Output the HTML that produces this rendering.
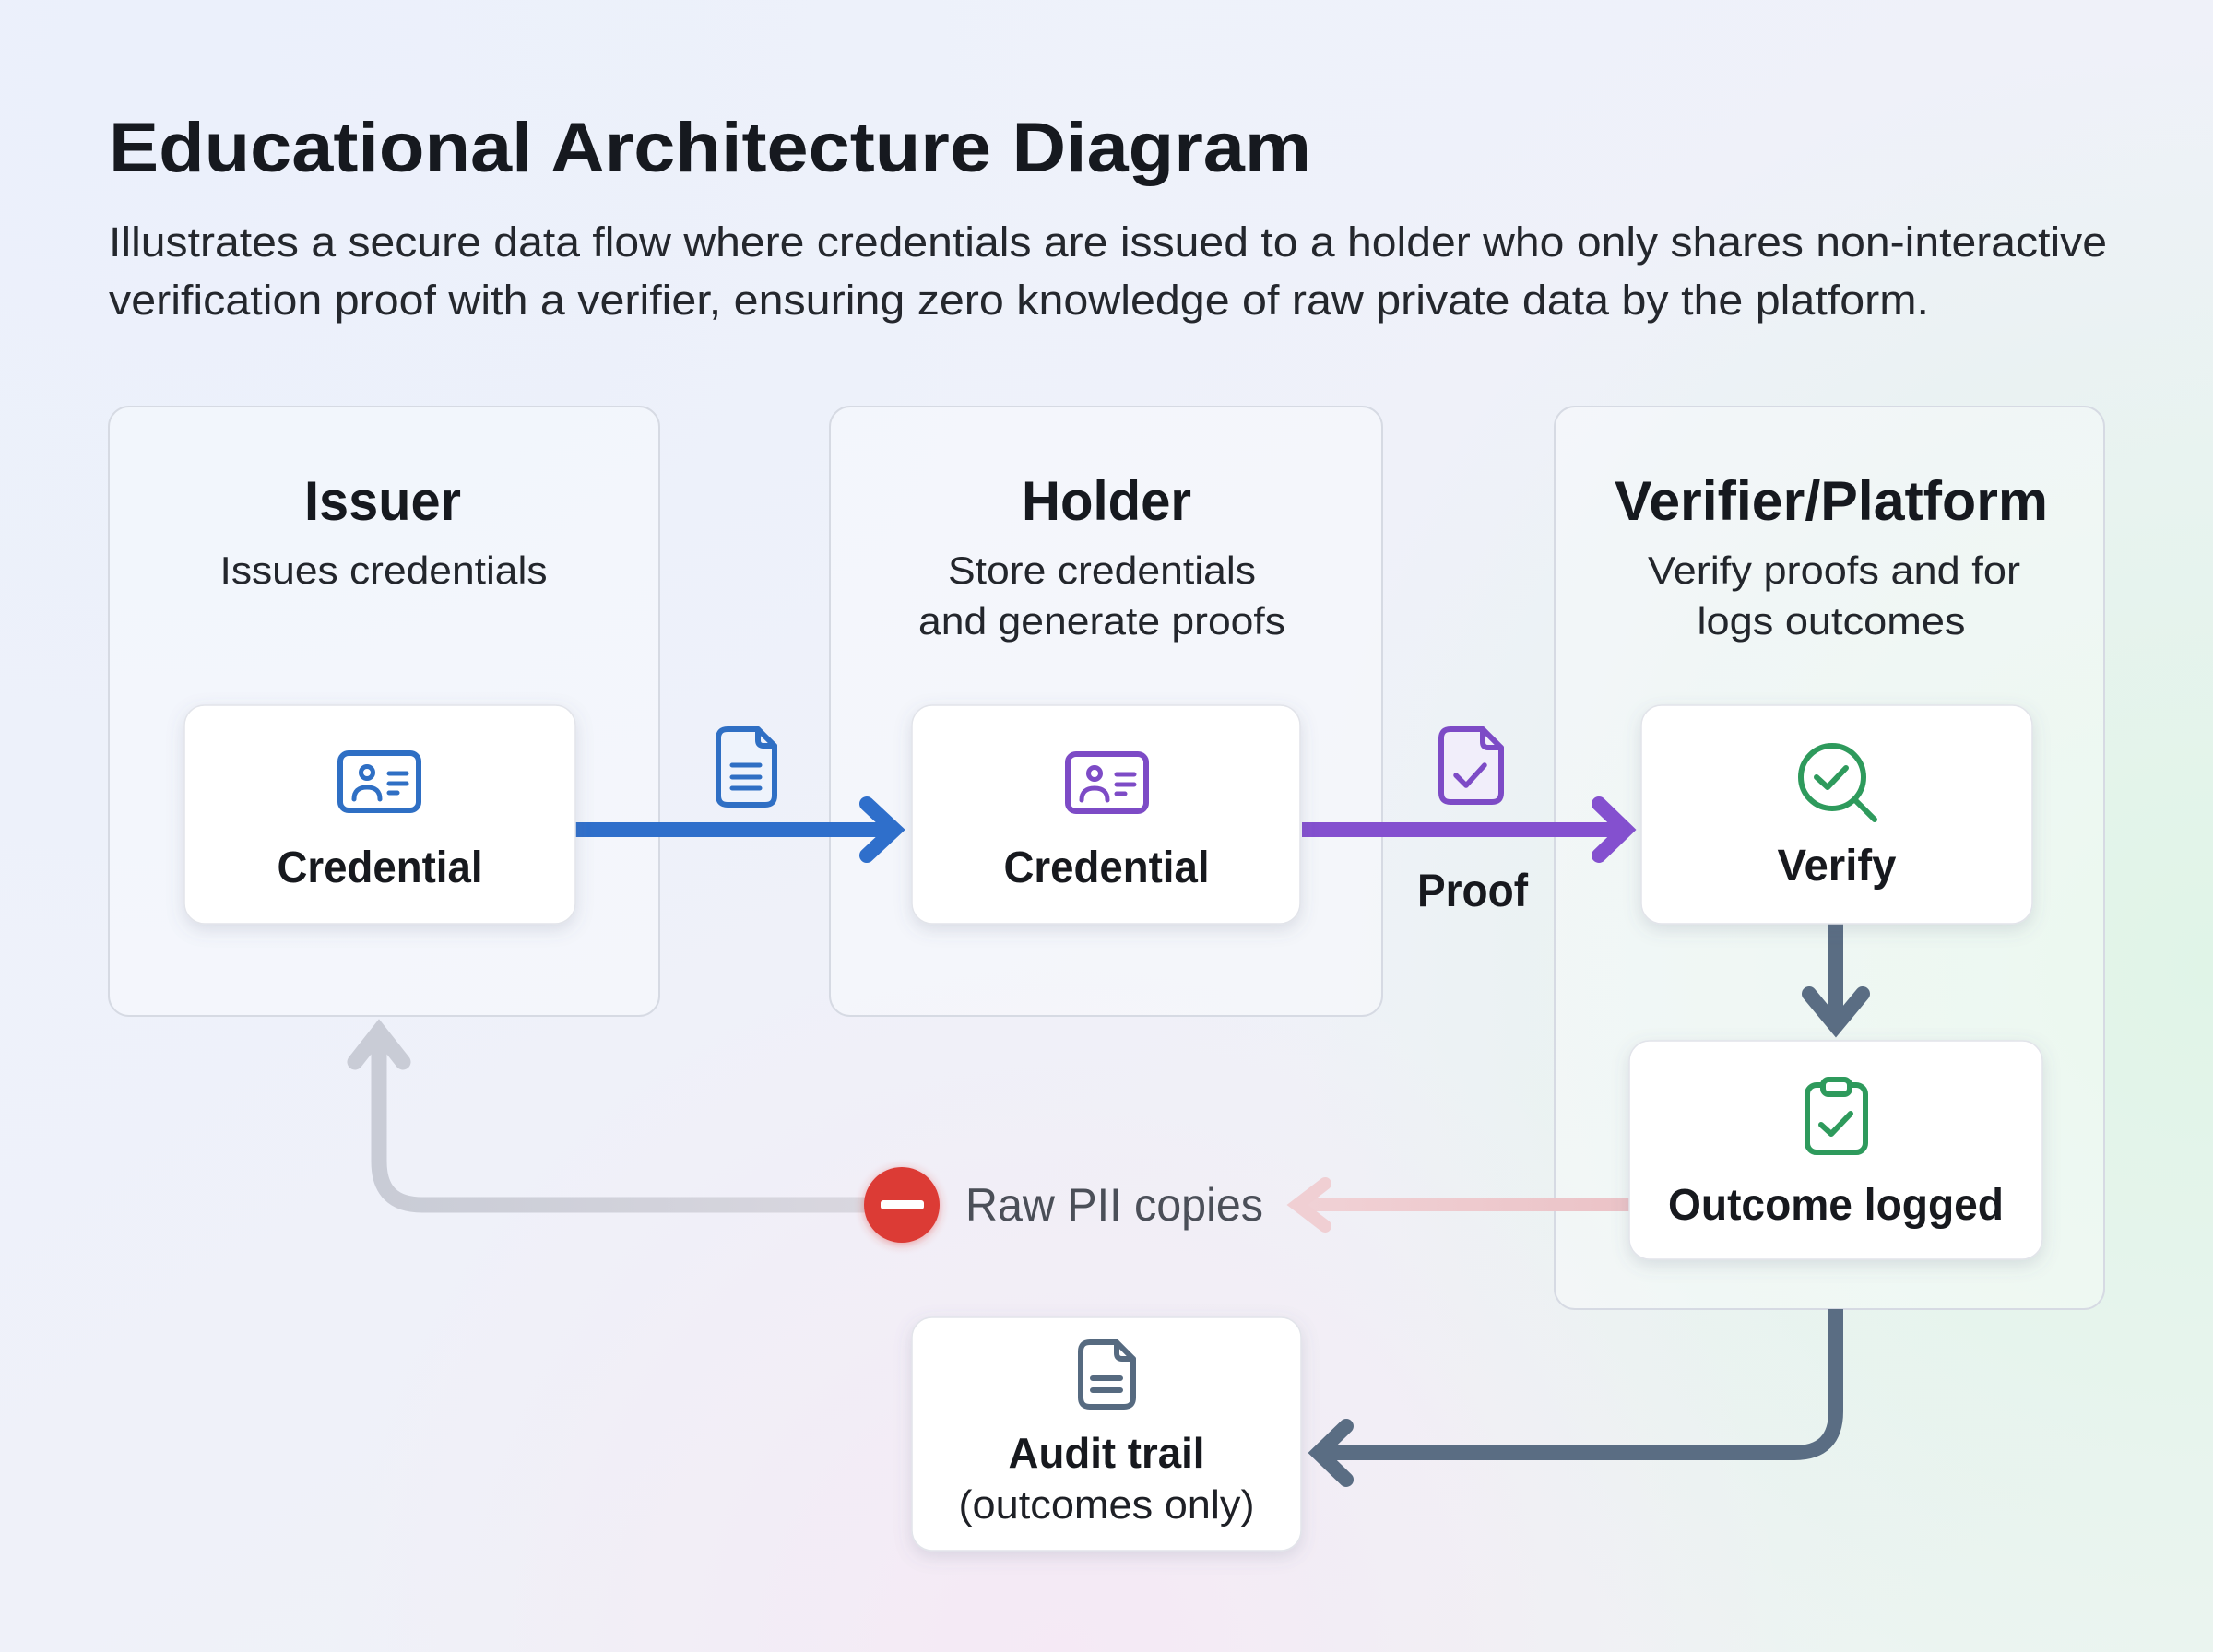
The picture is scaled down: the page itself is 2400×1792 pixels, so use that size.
<!DOCTYPE html>
<html>
<head>
<meta charset="utf-8">
<style>
  html, body { margin: 0; padding: 0; width: 2400px; height: 1792px; overflow: hidden; background: #eef1f9; }
  svg { display: block; }
  text { font-family: "Liberation Sans", "DejaVu Sans", sans-serif; }
</style>
</head>
<body>
<svg xmlns="http://www.w3.org/2000/svg" width="2400" height="1792" viewBox="0 0 2400 1792">
  <defs>
    <linearGradient id="bg" x1="0" y1="0" x2="1" y2="1">
      <stop offset="0" stop-color="#edf2fb"/>
      <stop offset="0.5" stop-color="#eff1f9"/>
      <stop offset="1" stop-color="#eef4f2"/>
    </linearGradient>
    <radialGradient id="gGreen" cx="2400" cy="1050" r="1000" gradientUnits="userSpaceOnUse">
      <stop offset="0" stop-color="#e0f4e7" stop-opacity="1"/>
      <stop offset="1" stop-color="#e0f4e7" stop-opacity="0"/>
    </radialGradient>
    <radialGradient id="gPink" cx="1150" cy="1800" r="800" gradientUnits="userSpaceOnUse">
      <stop offset="0" stop-color="#f5e9f5" stop-opacity="1"/>
      <stop offset="1" stop-color="#f5e9f5" stop-opacity="0"/>
    </radialGradient>
    <radialGradient id="gBlue" cx="200" cy="100" r="1100" gradientUnits="userSpaceOnUse">
      <stop offset="0" stop-color="#ebf0fb" stop-opacity="1"/>
      <stop offset="1" stop-color="#ebf0fb" stop-opacity="0"/>
    </radialGradient>
    <linearGradient id="pinkGrad" x1="1396" y1="0" x2="1767" y2="0" gradientUnits="userSpaceOnUse">
      <stop offset="0" stop-color="#f1d2d6"/>
      <stop offset="1" stop-color="#ebc3c7"/>
    </linearGradient>
    <linearGradient id="grayGrad" x1="411" y1="0" x2="937" y2="0" gradientUnits="userSpaceOnUse">
      <stop offset="0" stop-color="#c9ccd6"/>
      <stop offset="1" stop-color="#d9d7df"/>
    </linearGradient>
    <filter id="sh" x="-20%" y="-20%" width="140%" height="160%">
      <feDropShadow dx="0" dy="6" stdDeviation="9" flood-color="#5a6580" flood-opacity="0.18"/>
    </filter>
    <filter id="redglow" x="-50%" y="-50%" width="200%" height="200%">
      <feDropShadow dx="0" dy="2" stdDeviation="5" flood-color="#e03a35" flood-opacity="0.45"/>
    </filter>
  </defs>

  <!-- Background -->
  <rect x="0" y="0" width="2400" height="1792" fill="url(#bg)"/>
  <rect x="0" y="0" width="2400" height="1792" fill="url(#gBlue)"/>
  <rect x="0" y="0" width="2400" height="1792" fill="url(#gGreen)"/>
  <rect x="0" y="0" width="2400" height="1792" fill="url(#gPink)"/>

  <!-- Header -->
  <text x="118" y="186" font-size="76" font-weight="700" fill="#16191f" textLength="1304" lengthAdjust="spacingAndGlyphs">Educational Architecture Diagram</text>
  <text x="118" y="278" font-size="45" fill="#24272d" textLength="2167" lengthAdjust="spacingAndGlyphs">Illustrates a secure data flow where credentials are issued to a holder who only shares non-interactive</text>
  <text x="118" y="341" font-size="45" fill="#24272d" textLength="1974" lengthAdjust="spacingAndGlyphs">verification proof with a verifier, ensuring zero knowledge of raw private data by the platform.</text>

  <!-- Panels -->
  <rect x="118" y="441" width="597" height="661" rx="22" fill="#ffffff" fill-opacity="0.35" stroke="#d6dae3" stroke-width="2"/>
  <rect x="900" y="441" width="599" height="661" rx="22" fill="#ffffff" fill-opacity="0.35" stroke="#d6dae3" stroke-width="2"/>
  <rect x="1686" y="441" width="596" height="979" rx="22" fill="#ffffff" fill-opacity="0.35" stroke="#d6dae3" stroke-width="2"/>

  <!-- Panel titles -->
  <text x="415" y="564" font-size="60" font-weight="700" fill="#16191f" text-anchor="middle" textLength="170" lengthAdjust="spacingAndGlyphs">Issuer</text>
  <text x="1200" y="564" font-size="60" font-weight="700" fill="#16191f" text-anchor="middle" textLength="184" lengthAdjust="spacingAndGlyphs">Holder</text>
  <text x="1986" y="564" font-size="60" font-weight="700" fill="#16191f" text-anchor="middle" textLength="470" lengthAdjust="spacingAndGlyphs">Verifier/Platform</text>

  <text x="416" y="633" font-size="42" fill="#23262c" text-anchor="middle" textLength="355" lengthAdjust="spacingAndGlyphs">Issues credentials</text>
  <text x="1195" y="633" font-size="42" fill="#23262c" text-anchor="middle" textLength="334" lengthAdjust="spacingAndGlyphs">Store credentials</text>
  <text x="1195" y="688" font-size="42" fill="#23262c" text-anchor="middle" textLength="398" lengthAdjust="spacingAndGlyphs">and generate proofs</text>
  <text x="1989" y="633" font-size="42" fill="#23262c" text-anchor="middle" textLength="404" lengthAdjust="spacingAndGlyphs">Verify proofs and for</text>
  <text x="1986" y="688" font-size="42" fill="#23262c" text-anchor="middle" textLength="291" lengthAdjust="spacingAndGlyphs">logs outcomes</text>

  <!-- Gray return arrow (to issuer) -->
  <path d="M 940 1307 H 458 Q 411 1307 411 1260 V 1120" fill="none" stroke="url(#grayGrad)" stroke-width="17" stroke-linecap="round"/>
  <polyline points="385,1152 411,1119 437,1152" fill="none" stroke="#c9ccd6" stroke-width="17" stroke-linecap="round" stroke-linejoin="miter"/>

  <!-- Pink arrow (Raw PII copies) -->
  <path d="M 1767 1307 H 1410" fill="none" stroke="url(#pinkGrad)" stroke-width="14"/>
  <polyline points="1437,1284 1407,1307 1437,1330" fill="none" stroke="#f0cfd3" stroke-width="14" stroke-linecap="round" stroke-linejoin="miter"/>

  <!-- Red minus circle -->
  <circle cx="978" cy="1307" r="41" fill="#dc3a35" filter="url(#redglow)"/>
  <rect x="955" y="1302" width="47" height="10" rx="3" fill="#ffffff"/>

  <text x="1047" y="1324" font-size="50" fill="#4b4f58" textLength="323" lengthAdjust="spacingAndGlyphs">Raw PII copies</text>

  <!-- Audit arrow -->
  <path d="M 1991 1420 V 1531 Q 1991 1576 1946 1576 H 1432" fill="none" stroke="#5a6d83" stroke-width="16"/>
  <polyline points="1460,1547 1430,1576 1460,1605" fill="none" stroke="#5a6d83" stroke-width="16" stroke-linecap="round" stroke-linejoin="miter"/>

  <!-- Blue arrow -->
  <path d="M 624 900 H 968" fill="none" stroke="#2f6fcb" stroke-width="16"/>
  <polyline points="940,872 970,900 940,928" fill="none" stroke="#2f6fcb" stroke-width="16" stroke-linecap="round" stroke-linejoin="miter"/>

  <!-- Purple arrow -->
  <path d="M 1412 900 H 1760" fill="none" stroke="#8450cf" stroke-width="16"/>
  <polyline points="1734,872 1763,900 1734,928" fill="none" stroke="#8450cf" stroke-width="16" stroke-linecap="round" stroke-linejoin="miter"/>

  <!-- Down arrow verify -> outcome -->
  <path d="M 1991 1000 V 1112" fill="none" stroke="#5a6d83" stroke-width="16"/>
  <polyline points="1962,1078 1991,1113 2020,1078" fill="none" stroke="#5a6d83" stroke-width="16" stroke-linecap="round" stroke-linejoin="miter"/>

  <!-- Node boxes -->
  <rect x="200" y="765" width="424" height="237" rx="22" fill="#ffffff" stroke="#e2e4ea" stroke-width="1.5" filter="url(#sh)"/>
  <rect x="989" y="765" width="421" height="237" rx="22" fill="#ffffff" stroke="#e2e4ea" stroke-width="1.5" filter="url(#sh)"/>
  <rect x="1780" y="765" width="424" height="237" rx="22" fill="#ffffff" stroke="#e2e4ea" stroke-width="1.5" filter="url(#sh)"/>
  <rect x="1767" y="1129" width="448" height="237" rx="22" fill="#ffffff" stroke="#e2e4ea" stroke-width="1.5" filter="url(#sh)"/>
  <rect x="989" y="1429" width="422" height="253" rx="22" fill="#ffffff" stroke="#e2e4ea" stroke-width="1.5" filter="url(#sh)"/>

  <!-- Issuer ID card icon (blue) -->
  <g fill="none" stroke="#2f6fc4" stroke-width="6" stroke-linecap="round" stroke-linejoin="round">
    <rect x="369" y="817" width="85" height="62" rx="9"/>
    <circle cx="398" cy="838" r="6.5" stroke-width="5"/>
    <path d="M 384 867 Q 384 854 398 854 Q 412 854 412 867" stroke-width="5"/>
    <path d="M 422 839 H 441 M 422 850 H 441 M 422 860 H 431" stroke-width="5"/>
  </g>
  <text x="412" y="957" font-size="48" font-weight="700" fill="#17191e" text-anchor="middle" textLength="223" lengthAdjust="spacingAndGlyphs">Credential</text>

  <!-- Holder ID card icon (purple) -->
  <g fill="none" stroke="#7d4bc6" stroke-width="6" stroke-linecap="round" stroke-linejoin="round">
    <rect x="1158" y="818" width="85" height="62" rx="9"/>
    <circle cx="1187" cy="839" r="6.5" stroke-width="5"/>
    <path d="M 1173 868 Q 1173 855 1187 855 Q 1201 855 1201 868" stroke-width="5"/>
    <path d="M 1211 840 H 1230 M 1211 851 H 1230 M 1211 861 H 1220" stroke-width="5"/>
  </g>
  <text x="1200" y="957" font-size="48" font-weight="700" fill="#17191e" text-anchor="middle" textLength="223" lengthAdjust="spacingAndGlyphs">Credential</text>

  <!-- Blue doc icon -->
  <g fill="none" stroke="#2f6fc4" stroke-width="6" stroke-linecap="round" stroke-linejoin="round">
    <path d="M 789 791 H 822 L 840 809 V 863 Q 840 873 830 873 H 789 Q 779 873 779 863 V 801 Q 779 791 789 791 Z" fill="#eef3fc"/>
    <path d="M 822 791 V 803 Q 822 809 828 809 H 840"/>
    <path d="M 794 830 H 824 M 794 843 H 824 M 794 855 H 824" stroke-width="5"/>
  </g>

  <!-- Purple proof doc icon -->
  <g fill="none" stroke="#7d4bc6" stroke-width="6" stroke-linecap="round" stroke-linejoin="round">
    <path d="M 1573 791 H 1608 L 1628 811 V 860 Q 1628 870 1618 870 H 1573 Q 1563 870 1563 860 V 801 Q 1563 791 1573 791 Z" fill="#f1eefa"/>
    <path d="M 1608 791 V 805 Q 1608 811 1614 811 H 1628"/>
    <polyline points="1579,841 1590,852 1610,830" stroke-width="5.5"/>
  </g>
  <text x="1597" y="983" font-size="50" font-weight="700" fill="#17191e" text-anchor="middle" textLength="120" lengthAdjust="spacingAndGlyphs">Proof</text>

  <!-- Verify magnifier icon -->
  <g fill="none" stroke="#2e9a5c" stroke-width="6" stroke-linecap="round" stroke-linejoin="round">
    <circle cx="1987" cy="843" r="34"/>
    <path d="M 2012 868 L 2033 889"/>
    <polyline points="1970,843 1982,854 2002,833"/>
  </g>
  <text x="1992" y="955" font-size="48" font-weight="700" fill="#17191e" text-anchor="middle" textLength="129" lengthAdjust="spacingAndGlyphs">Verify</text>

  <!-- Clipboard icon -->
  <g fill="none" stroke="#2e9a5c" stroke-width="6" stroke-linecap="round" stroke-linejoin="round">
    <rect x="1960" y="1177" width="63" height="73" rx="10"/>
    <rect x="1977" y="1171" width="29" height="16" rx="6" fill="#ffffff"/>
    <polyline points="1975,1220 1986,1230 2007,1208"/>
  </g>
  <text x="1991" y="1323" font-size="48" font-weight="700" fill="#17191e" text-anchor="middle" textLength="364" lengthAdjust="spacingAndGlyphs">Outcome logged</text>

  <!-- Audit doc icon -->
  <g fill="none" stroke="#566a80" stroke-width="6" stroke-linecap="round" stroke-linejoin="round">
    <path d="M 1182 1456 H 1211 L 1229 1474 V 1516 Q 1229 1526 1219 1526 H 1182 Q 1172 1526 1172 1516 V 1466 Q 1172 1456 1182 1456 Z"/>
    <path d="M 1211 1456 V 1468 Q 1211 1474 1217 1474 H 1229"/>
    <path d="M 1185 1495 H 1215 M 1185 1508 H 1215" stroke-width="6"/>
  </g>
  <text x="1200" y="1592" font-size="46" font-weight="700" fill="#17191e" text-anchor="middle" textLength="213" lengthAdjust="spacingAndGlyphs">Audit trail</text>
  <text x="1200" y="1647" font-size="44" fill="#1e2026" text-anchor="middle" textLength="321" lengthAdjust="spacingAndGlyphs">(outcomes only)</text>
</svg>
</body>
</html>
